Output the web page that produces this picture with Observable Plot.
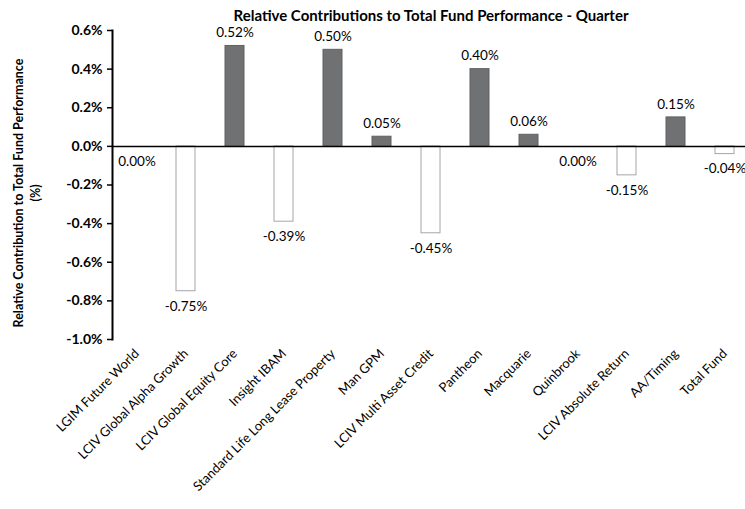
<!DOCTYPE html>
<html>
<head>
<meta charset="utf-8">
<script src="https://cdn.jsdelivr.net/npm/d3@7"></script>
<script src="https://cdn.jsdelivr.net/npm/@observablehq/plot@0.6"></script>
<style>
  html, body { margin: 0; padding: 0; background: #fff; overflow: hidden; }
  svg { font-family: Lato, "Open Sans", sans-serif; }
</style>
</head>
<body>
<div id="chart"></div>
<script>
const categories = [
  "LGIM Future World", "LCIV Global Alpha Growth", "LCIV Global Equity Core",
  "Insight IBAM", "Standard Life Long Lease Property", "Man GPM",
  "LCIV Multi Asset Credit", "Pantheon", "Macquarie", "Quinbrook",
  "LCIV Absolute Return", "AA/Timing", "Total Fund"
];
const values = [0.00, -0.75, 0.52, -0.39, 0.50, 0.05, -0.45, 0.40, 0.06, 0.00, -0.15, 0.15, -0.04];
const yTicks = [-1.0, -0.8, -0.6, -0.4, -0.2, 0.0, 0.2, 0.4, 0.6];
const title = "Relative Contributions to Total Fund Performance - Quarter";
const yLabel = "Relative Contribution to Total Fund Performance\n(%)";

const data = categories.map((name, i) => ({name, value: values[i]}));
const pos = data.filter(d => d.value > 0);
const neg = data.filter(d => d.value <= 0);

const chart = Plot.plot({
  width: 745,
  height: 509,
  marginLeft: 112,
  marginRight: -4,
  marginTop: 30,
  marginBottom: 170,
  style: {fontFamily: "Lato, 'Open Sans', sans-serif", overflow: "visible"},
  x: {domain: categories, paddingInner: 0.61, paddingOuter: 0.305},
  y: {domain: [-1.0, 0.6]},
  marks: [
    Plot.barY(data, {
      x: "name", y: "value",
      fill: d => d.value > 0 ? "#707172" : "#ffffff",
      stroke: d => d.value > 0 ? "#606162" : "#a6a6a6",
      strokeWidth: 1
    }),
    Plot.ruleY([0], {stroke: "#000", strokeWidth: 1.5}),
    Plot.frame({anchor: "left", stroke: "#000", strokeWidth: 2}),
    Plot.axisY({
      ticks: yTicks, tickSize: 5, tickPadding: 5,
      tickFormat: d => d.toFixed(1) + "%",
      fontSize: 14, fontWeight: "bold", stroke: "#000", strokeWidth: 1.5,
      label: null, color: "#000"
    }),
    Plot.axisX({
      tickSize: 0, tickRotate: -45, tickPadding: 12,
      fontSize: 13, label: null, color: "#000"
    }),
    Plot.text(pos, {
      x: "name", y: "value", text: d => d.value.toFixed(2) + "%",
      dy: -13, fontSize: 13.5, fill: "#000"
    }),
    Plot.text(neg, {
      x: "name", y: "value", text: d => d.value.toFixed(2) + "%",
      dy: 15, fontSize: 13.5, fill: "#000"
    }),
    Plot.text([title], {
      frameAnchor: "top", lineAnchor: "middle", dy: -14, text: d => d,
      fontSize: 15, fontWeight: "bold", fill: "#000"
    }),
    Plot.text([yLabel], {
      frameAnchor: "left", textAnchor: "middle", dx: -86, dy: 8, rotate: -90, text: d => d,
      fontSize: 12.5, fontWeight: "bold", fill: "#000", lineHeight: 1.35
    })
  ]
});
document.getElementById("chart").append(chart);
</script>
</body>
</html>
